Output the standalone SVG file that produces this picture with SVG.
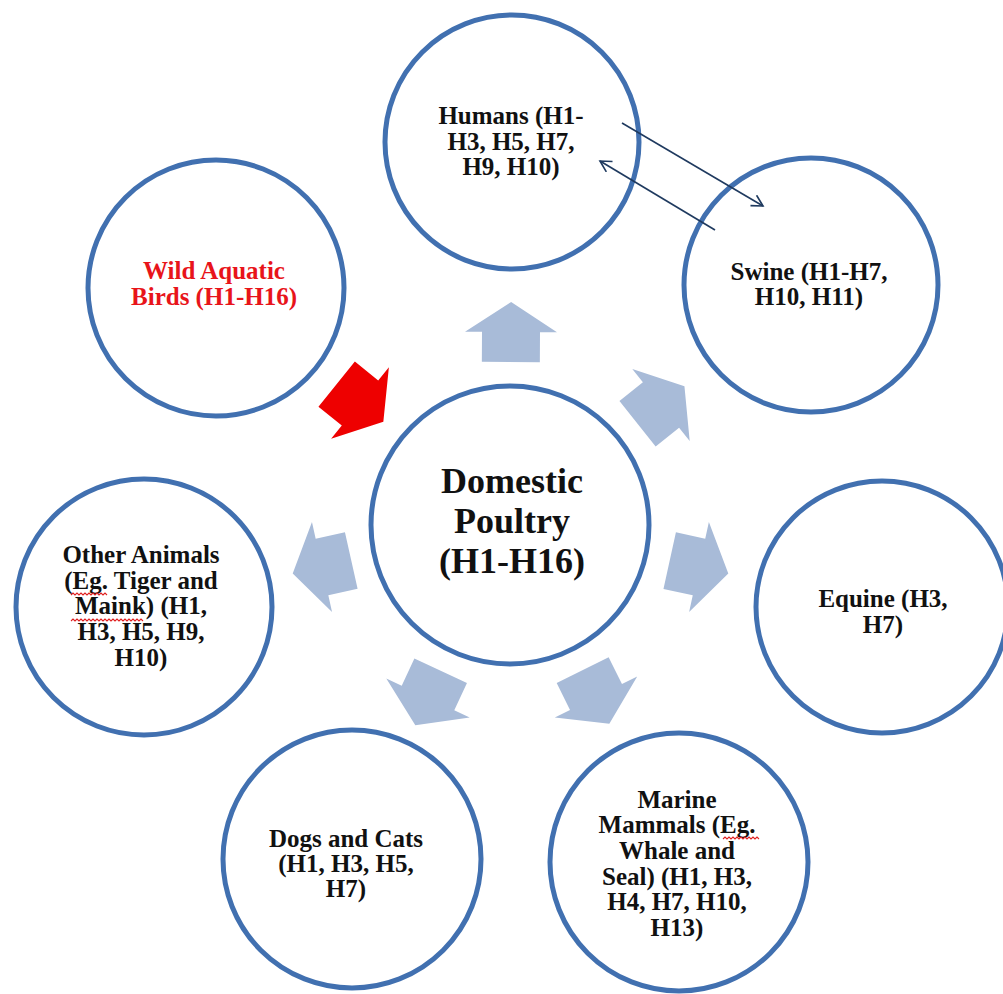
<svg xmlns="http://www.w3.org/2000/svg" width="1003" height="994" viewBox="0 0 1003 994">
<style>
.node circle{fill:#ffffff;stroke:#4170b0;stroke-width:5}
.t{font-family:"Liberation Serif","Times New Roman",serif;font-weight:bold;font-size:25px;fill:#111111;text-anchor:middle}
.big{font-size:36px}
.red{fill:#e8141a}
.blk{fill:#a8bbd8}
.thin{fill:none;stroke:#1f3a5f;stroke-width:1.6}
.sq{fill:none;stroke:#e02020;stroke-width:1.1}
</style>
<defs>
<polygon id="barrow" points="30,0 0,-46 0,-29 -30,-29 -30,29 0,29 0,46"/>
<marker id="open" markerWidth="14" markerHeight="14" refX="12" refY="7" orient="auto" markerUnits="userSpaceOnUse">
<path d="M1,1 L12,7 L1,13" fill="none" stroke="#1f3a5f" stroke-width="1.6"/>
</marker>
</defs>
<rect width="1003" height="994" fill="#ffffff"/>

<g id="humans" class="node">
<circle cx="512" cy="142" r="127"/>
<text class="t" x="511" y="124">Humans (H1-</text>
<text class="t" x="511" y="150">H3, H5, H7,</text>
<text class="t" x="511" y="175">H9, H10)</text>
</g>

<g id="wild" class="node">
<circle cx="216" cy="288" r="128"/>
<text class="t red" x="214" y="279">Wild Aquatic</text>
<text class="t red" x="214" y="305">Birds (H1-H16)</text>
</g>

<g id="swine" class="node">
<circle cx="811" cy="285" r="127"/>
<text class="t" x="809" y="280">Swine (H1-H7,</text>
<text class="t" x="809" y="305">H10, H11)</text>
</g>

<g id="poultry" class="node">
<circle cx="510" cy="525" r="139"/>
<text class="t big" x="512" y="493">Domestic</text>
<text class="t big" x="512" y="533">Poultry</text>
<text class="t big" x="512" y="573">(H1-H16)</text>
</g>

<g id="other" class="node">
<circle cx="144" cy="607" r="128"/>
<text class="t" x="141" y="563">Other Animals</text>
<text class="t" x="141" y="589">(Eg. Tiger and</text>
<text class="t" x="141" y="614">Maink) (H1,</text>
<text class="t" x="141" y="640">H3, H5, H9,</text>
<text class="t" x="141" y="666">H10)</text>
<path class="sq" d="M71,595 l2,-2 l2,2 l2,-2 l2,2 l2,-2 l2,2 l2,-2 l2,2 l2,-2 l2,2 l2,-2 l2,2 l2,-2 l2,2 l2,-2 l2,2 l2,-2 l2,2"/>
<path class="sq" d="M71,621 l2,-2 l2,2 l2,-2 l2,2 l2,-2 l2,2 l2,-2 l2,2 l2,-2 l2,2 l2,-2 l2,2 l2,-2 l2,2 l2,-2 l2,2 l2,-2 l2,2 l2,-2 l2,2 l2,-2 l2,2 l2,-2 l2,2 l2,-2 l2,2 l2,-2 l2,2 l2,-2 l2,2 l2,-2 l2,2 l2,-2 l2,2 l2,-2 l2,2"/>
</g>

<g id="equine" class="node">
<circle cx="882" cy="607" r="126"/>
<text class="t" x="883" y="607">Equine (H3,</text>
<text class="t" x="883" y="633">H7)</text>
</g>

<g id="dogs" class="node">
<circle cx="352" cy="859" r="129"/>
<text class="t" x="346" y="847">Dogs and Cats</text>
<text class="t" x="346" y="872">(H1, H3, H5,</text>
<text class="t" x="346" y="897">H7)</text>
</g>

<g id="marine" class="node">
<circle cx="679" cy="862" r="129"/>
<text class="t" x="677" y="808">Marine</text>
<text class="t" x="677" y="833">Mammals (Eg.</text>
<text class="t" x="677" y="859">Whale and</text>
<text class="t" x="677" y="885">Seal) (H1, H3,</text>
<text class="t" x="677" y="910">H4, H7, H10,</text>
<text class="t" x="677" y="936">H13)</text>
<path class="sq" d="M723,839 l2,-2 l2,2 l2,-2 l2,2 l2,-2 l2,2 l2,-2 l2,2 l2,-2 l2,2 l2,-2 l2,2 l2,-2 l2,2 l2,-2 l2,2 l2,-2 l2,2"/>
</g>

<g id="connectors">
<use href="#barrow" class="blk" transform="translate(511,332) rotate(-89.7)"/>
<use href="#barrow" class="blk" transform="translate(661,405) rotate(-38.6)"/>
<use href="#barrow" class="blk" transform="translate(699,567) rotate(12.4)"/>
<use href="#barrow" class="blk" transform="translate(596,697) rotate(63.6)"/>
<use href="#barrow" class="blk" transform="translate(428,698) rotate(115)"/>
<use href="#barrow" class="blk" transform="translate(322,567) rotate(167.4)"/>
<use href="#barrow" fill="#ee0000" transform="translate(360,403) rotate(38.9)"/>
<line class="thin" x1="622" y1="123" x2="763" y2="206" marker-end="url(#open)"/>
<line class="thin" x1="715" y1="230" x2="600" y2="161" marker-end="url(#open)"/>
</g>
</svg>
